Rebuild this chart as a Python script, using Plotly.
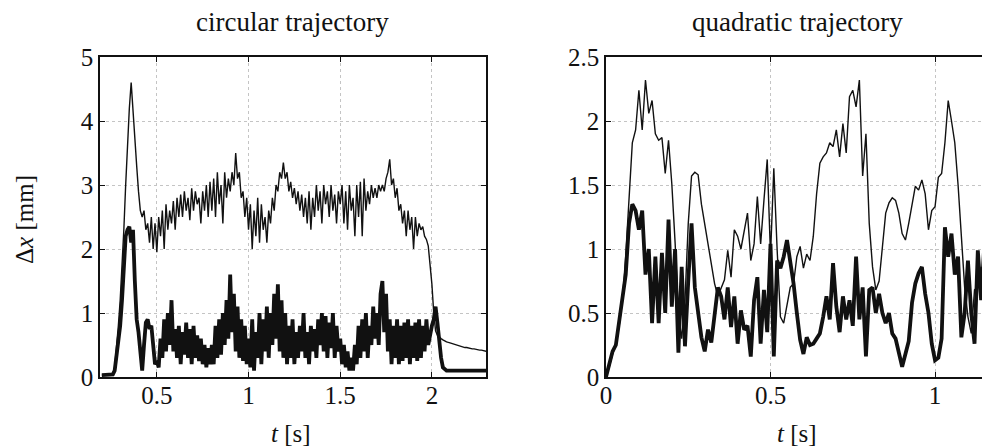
import plotly.graph_objects as go

# ---------------- data ----------------
# circular trajectory: time grid start / step
circ_t0 = 0.20
circ_dt = 0.01
circ_thin = [
    0.03, 0.03, 0.03, 0.03, 0.03, 0.03, 0.04, 0.15, 0.45, 0.8,
    1.2, 1.7, 2.3, 3.0, 3.7, 4.2, 4.6, 4.1, 3.7, 3.3,
    2.9, 2.6, 2.5, 2.6, 2.3, 2.4, 2.1, 2.5, 2.0, 2.4,
    1.95, 2.5, 2.2, 2.6, 2.0, 2.7, 2.3, 2.6, 2.4, 2.75,
    2.3, 2.8, 2.5, 2.85, 2.5, 2.9, 2.6, 2.8, 2.45, 2.95,
    2.6, 2.9, 2.7, 2.8, 2.4, 2.9, 2.6, 3.0, 2.5, 3.05,
    2.6, 3.1, 2.5, 3.2, 2.7, 3.0, 2.4, 3.2, 2.8, 3.1,
    2.9, 3.2, 3.0, 3.5, 3.1, 3.2, 2.8, 2.9, 2.5, 2.8,
    2.3, 2.7, 2.0, 2.6, 2.2, 2.8, 2.1, 2.7, 2.3, 2.5,
    2.1, 2.6, 2.4, 2.8, 2.6, 3.0, 2.9, 3.2, 3.1, 3.35,
    3.1, 3.2, 2.9, 3.05, 2.8, 2.95, 2.7, 2.9, 2.6, 2.85,
    2.5, 2.8, 2.4, 2.9, 2.3, 2.8, 2.5, 3.0, 2.6, 2.9,
    2.4, 3.0, 2.7, 2.9, 2.5, 3.0, 2.6, 2.85, 2.4, 2.9,
    2.7, 3.0, 2.4, 2.9, 2.3, 3.0, 2.6, 2.8, 2.2, 3.0,
    2.5, 3.05, 2.2, 3.1, 2.6, 2.9, 2.7, 3.0, 2.8, 2.95,
    2.8, 3.0, 2.9, 3.0, 2.9, 3.1, 3.2, 3.4, 3.0, 3.1,
    2.8, 2.95, 2.6, 2.7, 2.4, 2.6, 2.2, 2.6, 2.3, 2.5,
    2.0, 2.5, 2.2, 2.4, 2.3, 2.35, 2.2, 2.15, 2.05, 1.8,
    1.45, 1.0, 0.72, 0.65, 0.62, 0.6, 0.58, 0.56, 0.55, 0.54,
    0.53, 0.52, 0.51, 0.5, 0.49, 0.48, 0.48, 0.47, 0.46, 0.46,
    0.45, 0.45, 0.44, 0.44, 0.43, 0.43, 0.42, 0.42, 0.41, 0.41, 0.40,
]
circ_thick = [
    0.03, 0.03, 0.03, 0.03, 0.03, 0.03, 0.04, 0.1, 0.35, 0.65,
    0.8, 1.2, 1.8, 2.2, 2.3, 2.35, 2.1, 2.3, 1.5, 0.9,
    0.7, 0.3, 0.1, 0.5, 0.85, 0.9, 0.75, 0.8, 0.4, 0.2,
    0.25, 0.15, 0.6, 0.3, 0.9, 0.4, 1.0, 0.5, 1.2, 0.4,
    0.75, 0.3, 0.8, 0.2, 0.7, 0.35, 0.85, 0.3, 0.75, 0.2,
    0.8, 0.3, 0.65, 0.25, 0.6, 0.2, 0.5, 0.15, 0.45, 0.2,
    0.5, 0.2, 0.8, 0.3, 0.9, 0.35, 1.0, 0.5, 1.2, 0.6,
    1.6, 0.7, 1.3, 0.4, 1.1, 0.3, 0.9, 0.25, 0.8, 0.2,
    0.6, 0.15, 0.9, 0.1, 0.7, 0.3, 1.0, 0.2, 0.9, 0.4,
    1.1, 0.3, 1.0, 0.5, 1.3, 0.6, 1.45, 0.4, 1.2, 0.3,
    1.0, 0.2, 0.8, 0.3, 0.9, 0.2, 0.7, 0.3, 0.8, 0.4,
    1.0, 0.3, 0.7, 0.2, 0.8, 0.4, 0.75, 0.3, 0.9, 0.5,
    1.0, 0.4, 0.95, 0.3, 0.85, 0.45, 1.0, 0.3, 0.8, 0.4,
    0.6, 0.2, 0.5, 0.15, 0.4, 0.1, 0.3, 0.1, 0.5, 0.2,
    0.8, 0.3, 0.9, 0.4, 1.0, 0.3, 0.8, 0.5, 1.1, 0.6,
    1.0, 0.5, 1.3, 1.5, 0.7, 1.3, 0.4, 0.9, 0.2, 0.8,
    0.3, 0.9, 0.2, 0.8, 0.25, 0.85, 0.3, 0.9, 0.2, 0.8,
    0.3, 0.85, 0.25, 0.9, 0.3, 0.8, 0.4, 0.9, 0.5, 0.7,
    0.8, 0.9, 1.1, 0.85, 0.55, 0.3, 0.15, 0.12, 0.1, 0.1,
    0.1, 0.1, 0.1, 0.1, 0.1, 0.1, 0.1, 0.1, 0.1, 0.1,
    0.1, 0.1, 0.1, 0.1, 0.1, 0.1, 0.1, 0.1, 0.1, 0.1, 0.1,
]

# quadratic trajectory
quad_t0 = 0.0
quad_dt = 0.01
quad_thin = [
    0.0, 0.08, 0.18, 0.25, 0.4, 0.6, 0.95, 1.44, 1.83, 1.93,
    2.24, 1.93, 2.32, 2.06, 2.16, 1.9, 1.85, 1.87, 1.59, 1.85,
    1.51, 1.05, 0.5, 0.3, 0.6, 1.2, 1.57, 1.6, 1.58, 1.35,
    1.2, 1.05, 0.87, 0.73, 0.63, 0.7, 0.76, 0.99, 0.78, 1.15,
    1.1, 1.0, 1.15, 1.28, 0.91, 1.04, 1.41, 1.04, 1.38, 1.7,
    0.95, 1.63, 1.0, 0.47, 0.42, 0.57, 0.7, 0.73, 0.94, 1.02,
    0.85, 0.96, 0.91, 1.1, 1.43, 1.67, 1.72, 1.75, 1.83, 1.8,
    1.93, 1.72, 1.98, 1.75, 2.19, 2.24, 2.11, 2.32, 1.57, 1.9,
    1.2, 0.86, 0.68, 0.75, 1.02, 1.28, 1.36, 1.4, 1.38, 1.28,
    1.12, 1.07, 1.2, 1.36, 1.49, 1.46, 1.54, 1.43, 1.15, 1.3,
    1.33, 1.56, 1.59, 1.83, 2.16, 2.0, 1.83, 1.5, 1.1, 0.7,
    0.47, 0.34, 0.68, 0.7, 0.86, 0.68, 0.73,
]
quad_thick = [
    0.0, 0.1, 0.2, 0.25, 0.45, 0.6, 0.8, 1.2, 1.35, 1.3,
    1.15, 1.3, 0.8, 1.0, 0.42, 0.94, 0.42, 0.97, 0.5, 1.23,
    0.55, 1.0, 0.19, 0.86, 0.24, 0.75, 1.2, 0.7, 0.5, 0.31,
    0.2, 0.37, 0.27, 0.52, 0.7, 0.63, 0.45, 0.7, 0.39, 0.63,
    0.26, 0.52, 0.37, 0.4, 0.16, 0.6, 0.78, 0.26, 0.68, 0.35,
    1.04, 0.16, 0.91, 0.85, 0.94, 1.07, 0.9, 0.73, 0.5, 0.29,
    0.18, 0.31, 0.25, 0.26, 0.3, 0.34, 0.47, 0.63, 0.45, 0.89,
    0.55, 0.35, 0.63, 0.45, 0.6, 0.4, 0.94, 0.45, 0.7, 0.16,
    0.68, 0.7, 0.5, 0.65, 0.5, 0.42, 0.5, 0.34, 0.3, 0.2,
    0.08, 0.18, 0.28, 0.58, 0.73, 0.81, 0.86, 0.65, 0.5, 0.26,
    0.13, 0.15, 0.3, 1.17, 0.94, 1.12, 0.8, 0.94, 0.31, 0.5,
    0.91, 0.5, 0.26, 0.99, 0.6, 1.04, 0.73,
]

circ_xticks = [0.5, 1, 1.5, 2]
circ_xticklabels = ["0.5", "1", "1.5", "2"]
circ_yticks = [0, 1, 2, 3, 4, 5]
quad_xticks = [0, 0.5, 1]
quad_xticklabels = ["0", "0.5", "1"]
quad_yticks = [0, 0.5, 1, 1.5, 2, 2.5]
quad_yticklabels = ["0", "0.5", "1", "1.5", "2", "2.5"]

titles = ["circular trajectory", "quadratic trajectory"]
xlabel = "<i>t</i> [s]"
ylabel = "Δ<i>x</i> [mm]"

# ---------------- figure ----------------
# the page body adds an 8 px margin, so the figure is drawn 8 px smaller
OFF = 8
W, H = 990 - OFF, 447 - OFF


def px(xp):
    return (xp - OFF) / W


def py(yp):
    return 1 - (yp - OFF) / H


circ_t = [round(circ_t0 + i * circ_dt, 4) for i in range(len(circ_thin))]
quad_t = [round(quad_t0 + i * quad_dt, 4) for i in range(len(quad_thin))]

FONT = "Liberation Serif"
INK = "#111111"

fig = go.Figure()
fig.add_trace(go.Scatter(x=circ_t, y=circ_thin, mode="lines",
                         line=dict(color=INK, width=1.4), xaxis="x", yaxis="y"))
fig.add_trace(go.Scatter(x=circ_t, y=circ_thick, mode="lines",
                         line=dict(color=INK, width=3.8), xaxis="x", yaxis="y"))
fig.add_trace(go.Scatter(x=quad_t, y=quad_thin, mode="lines",
                         line=dict(color=INK, width=1.4), xaxis="x2", yaxis="y2"))
fig.add_trace(go.Scatter(x=quad_t, y=quad_thick, mode="lines",
                         line=dict(color=INK, width=3.8), xaxis="x2", yaxis="y2"))

y_dom = [py(377), py(57)]
axis_common = dict(showline=True, linecolor=INK, linewidth=1.5, mirror="ticks",
                   ticks="inside", ticklen=5, tickcolor=INK, tickwidth=1,
                   showgrid=True, gridcolor="#c4c4c4", griddash="dot", gridwidth=1,
                   zeroline=False, automargin=False,
                   tickfont=dict(family=FONT, size=25, color=INK))

fig.update_layout(
    width=W, height=H,
    margin=dict(l=0, r=0, t=0, b=0, autoexpand=False),
    paper_bgcolor="white", plot_bgcolor="white",
    showlegend=False,
    xaxis=dict(domain=[px(100), px(486)], range=[0.19, 2.295],
               tickvals=circ_xticks, ticktext=circ_xticklabels,
               ticklabelstandoff=-5, anchor="y", **axis_common),
    yaxis=dict(domain=y_dom, range=[0, 5], tickvals=circ_yticks,
               ticklabelstandoff=0, anchor="x", **axis_common),
    xaxis2=dict(domain=[px(606), 1.0], range=[0, 1.167],
                tickvals=quad_xticks, ticktext=quad_xticklabels,
                ticklabelstandoff=-5, anchor="y2", **axis_common),
    yaxis2=dict(domain=y_dom, range=[0, 2.5], tickvals=quad_yticks,
                ticktext=quad_yticklabels, ticklabelstandoff=0,
                anchor="x2", **axis_common),
)

tfont = dict(family=FONT, size=25, color=INK)
ttl_font = dict(family=FONT, size=27, color=INK)
ann = [
    dict(text=titles[0], x=px(292), y=py(22), font=ttl_font),
    dict(text=titles[1], x=px(797), y=py(22), font=ttl_font),
    dict(text=xlabel, x=px(291), y=py(433), font=tfont),
    dict(text=xlabel, x=px(797), y=py(433), font=tfont),
    dict(text=ylabel, x=px(25), y=py(220), textangle=-90, font=tfont),
]
for a in ann:
    fig.add_annotation(xref="paper", yref="paper", showarrow=False,
                       xanchor="center", yanchor="middle", **a)

fig.write_html("out.html")
